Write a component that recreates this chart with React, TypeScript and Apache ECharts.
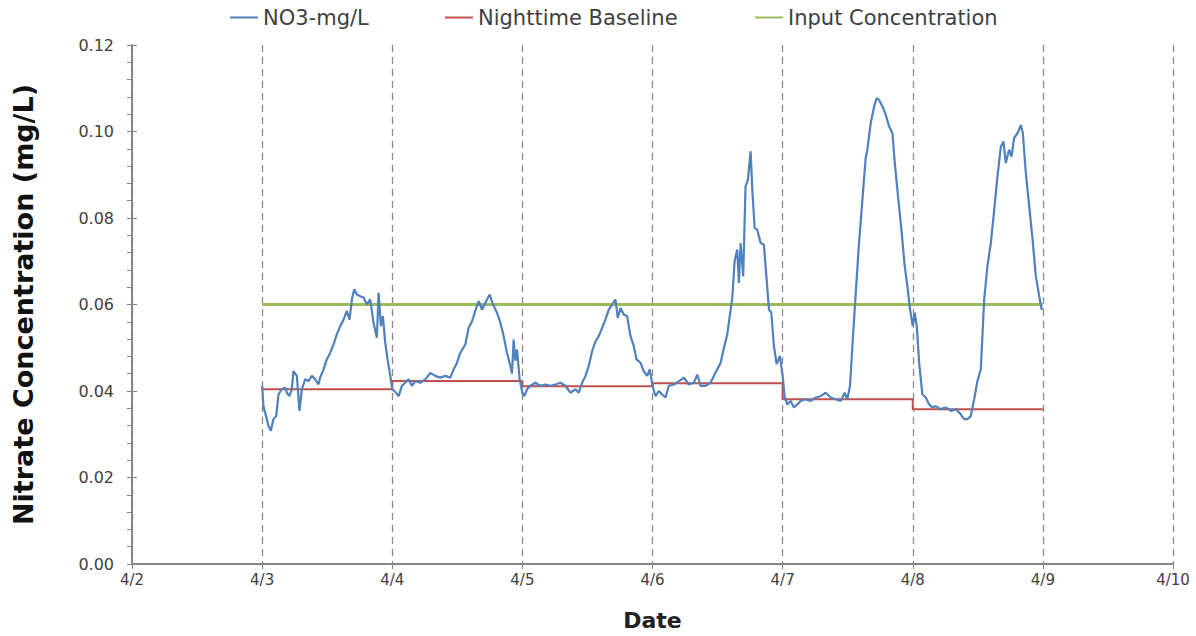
import React, { useEffect, useRef } from "react";
import * as echarts from "echarts";

// Day ticks along the x axis (value = day of April)
const dayLabels = ["4/2", "4/3", "4/4", "4/5", "4/6", "4/7", "4/8", "4/9", "4/10"];

// Measured nitrate, x in fractional April days
const no3Days = [
  3.0, 3.01, 3.023, 3.036, 3.049, 3.067, 3.087, 3.108, 3.126, 3.151, 3.177, 3.19, 3.21, 3.228, 3.241, 3.267,
  3.287, 3.305, 3.331, 3.356, 3.382, 3.408, 3.433, 3.446, 3.472, 3.497, 3.523, 3.549, 3.574, 3.6, 3.626, 3.651,
  3.672, 3.69, 3.708, 3.728, 3.754, 3.779, 3.805, 3.831, 3.856, 3.882, 3.895, 3.913, 3.928, 3.946, 3.964, 3.985,
  4.0, 4.023, 4.049, 4.074, 4.1, 4.126, 4.151, 4.177, 4.215, 4.254, 4.292, 4.331, 4.369, 4.408, 4.446, 4.472,
  4.497, 4.523, 4.562, 4.587, 4.613, 4.638, 4.664, 4.69, 4.715, 4.749, 4.774, 4.805, 4.831, 4.856, 4.882, 4.908,
  4.92, 4.933, 4.946, 4.959, 4.979,
  5.0, 5.015, 5.036, 5.062, 5.1, 5.138, 5.177, 5.215, 5.254, 5.292, 5.331, 5.369, 5.408, 5.433, 5.459, 5.485,
  5.51, 5.536, 5.562, 5.587, 5.613, 5.638, 5.664, 5.69, 5.715, 5.733, 5.754, 5.779, 5.805, 5.831, 5.856, 5.877,
  5.908, 5.933, 5.959, 5.979,
  6.0, 6.023, 6.049, 6.074, 6.1, 6.126, 6.164, 6.203, 6.241, 6.279, 6.318, 6.344, 6.369, 6.408, 6.446, 6.472,
  6.497, 6.523, 6.549, 6.574, 6.59, 6.613, 6.631, 6.651, 6.664, 6.677, 6.697, 6.715, 6.733, 6.754, 6.767, 6.785,
  6.805, 6.831, 6.856, 6.877, 6.895, 6.913, 6.933, 6.954, 6.979,
  7.0, 7.015, 7.036, 7.062, 7.087, 7.113, 7.138, 7.177, 7.215, 7.254, 7.292, 7.331, 7.369, 7.408, 7.446, 7.477,
  7.497, 7.518, 7.536, 7.562, 7.587, 7.613, 7.638, 7.651, 7.677, 7.703, 7.723, 7.741, 7.767, 7.792, 7.818, 7.844,
  7.862, 7.887, 7.913, 7.938, 7.959, 7.979,
  8.0, 8.015, 8.031, 8.049, 8.074, 8.1, 8.126, 8.151, 8.177, 8.215, 8.254, 8.292, 8.331, 8.369, 8.395, 8.421,
  8.446, 8.472, 8.497, 8.523, 8.549, 8.574, 8.6, 8.626, 8.651, 8.677, 8.697, 8.715, 8.741, 8.759, 8.779, 8.805,
  8.831, 8.846, 8.869, 8.895, 8.921, 8.946, 8.972, 8.99, 9.0,
];

const no3Values = [
  0.0412, 0.0365, 0.035, 0.0335, 0.0319, 0.0308, 0.0335, 0.0342, 0.0392, 0.0404, 0.0408, 0.0396, 0.0388, 0.0404, 0.0446, 0.0435,
  0.0354, 0.0404, 0.0427, 0.0423, 0.0435, 0.0427, 0.0415, 0.0431, 0.045, 0.0473, 0.0488, 0.0508, 0.0531, 0.055, 0.0565, 0.0585,
  0.0565, 0.0612, 0.0635, 0.0623, 0.0619, 0.0616, 0.06, 0.0612, 0.0558, 0.0523, 0.0627, 0.055, 0.0573, 0.0512, 0.0473, 0.0435,
  0.0404, 0.0398, 0.0388, 0.0412, 0.0419, 0.0427, 0.0412, 0.0423, 0.0419, 0.0427, 0.0442, 0.0435, 0.0431, 0.0435, 0.0431, 0.045,
  0.0465, 0.0488, 0.0508, 0.0546, 0.0561, 0.0585, 0.0608, 0.0588, 0.0604, 0.0623, 0.06, 0.0581, 0.0558, 0.0527, 0.0488, 0.0458,
  0.044, 0.0519, 0.047, 0.0496, 0.0427,
  0.0396, 0.0388, 0.0404, 0.0412, 0.0419, 0.0412, 0.0415, 0.0412, 0.0415, 0.0419, 0.0412, 0.0396, 0.0404, 0.0396, 0.0419, 0.0435,
  0.0458, 0.0492, 0.0515, 0.0527, 0.0546, 0.0565, 0.0588, 0.06, 0.0612, 0.0569, 0.0592, 0.0577, 0.0573, 0.0527, 0.0504, 0.0473,
  0.0465, 0.0446, 0.0435, 0.045,
  0.0412, 0.0388, 0.04, 0.0392, 0.0385, 0.0412, 0.0415, 0.0423, 0.0431, 0.0415, 0.0419, 0.0438, 0.0412, 0.0412, 0.0419, 0.0435,
  0.045, 0.0465, 0.05, 0.053, 0.0565, 0.0615, 0.07, 0.0727, 0.065, 0.0742, 0.0665, 0.0873, 0.0888, 0.0954, 0.0865, 0.0777,
  0.0773, 0.0742, 0.0738, 0.0658, 0.0588, 0.0581, 0.0504, 0.0462, 0.0481,
  0.0435, 0.0388, 0.0369, 0.0377, 0.0362, 0.0369, 0.0377, 0.0381, 0.0377, 0.0385, 0.0388, 0.0396, 0.0385, 0.0381, 0.0377, 0.0396,
  0.0381, 0.0412, 0.0504, 0.0627, 0.0742, 0.0842, 0.0938, 0.0958, 0.1019, 0.1058, 0.1077, 0.1073, 0.1058, 0.1039, 0.1012, 0.0996,
  0.0927, 0.085, 0.0773, 0.0689, 0.0642, 0.0589,
  0.055, 0.0581, 0.055, 0.0465, 0.0392, 0.0385, 0.0369, 0.0362, 0.0365, 0.0358, 0.0362, 0.0354, 0.0358, 0.0346, 0.0335, 0.0335,
  0.0342, 0.0381, 0.0423, 0.045, 0.0612, 0.0689, 0.0742, 0.0819, 0.0896, 0.0965, 0.0977, 0.0927, 0.0958, 0.0942, 0.0985, 0.0996,
  0.1015, 0.0996, 0.0904, 0.0827, 0.075, 0.0665, 0.0619, 0.0589, 0.0592,
];

// Nighttime baseline, one level per day (held until the next day)
const baselineDays = [3, 4, 5, 6, 7, 8, 9];
const baselineValues = [0.0404, 0.0423, 0.0411, 0.0418, 0.0381, 0.0358, 0.0358];

// Constant input concentration
const inputDays = [3, 9];
const inputValues = [0.06, 0.06];

const FONT = "'DejaVu Sans', Verdana, sans-serif";
const AXIS_GRAY = "#868686";

export default function App() {
  const ref = useRef<HTMLDivElement>(null);

  useEffect(() => {
    document.body.style.margin = "0";
    if (!ref.current) return;
    const chart = echarts.init(ref.current, undefined, { renderer: "svg" });

    const pairs = (xs: number[], ys: number[]) => xs.map((x, i) => [x, ys[i]]);

    const legendBase = {
      top: 7,
      padding: 0,
      icon: "rect",
      itemWidth: 28,
      itemHeight: 2,
      textStyle: { fontFamily: FONT, fontSize: 21, color: "#404040" },
      selectedMode: false as const,
    };

    chart.setOption({
      animation: false,
      backgroundColor: "#ffffff",
      legend: [
        { ...legendBase, left: 230, data: ["NO3-mg/L"] },
        { ...legendBase, left: 445, data: ["Nighttime Baseline"] },
        { ...legendBase, left: 755, data: ["Input Concentration"] },
      ],
      grid: { left: 132, right: 23, top: 45, bottom: 71, containLabel: false },
      xAxis: {
        type: "value",
        min: 2,
        max: 10,
        interval: 1,
        name: "Date",
        nameLocation: "middle",
        nameGap: 45,
        nameTextStyle: { fontFamily: FONT, fontSize: 22, fontWeight: "bold", color: "#222" },
        axisLine: { show: true, onZero: false, lineStyle: { color: AXIS_GRAY, width: 2 } },
        axisTick: { show: true, length: 5, lineStyle: { color: AXIS_GRAY, width: 1 } },
        axisLabel: {
          fontFamily: FONT,
          fontSize: 15,
          color: "#404040",
          margin: 8,
          formatter: (v: number) => dayLabels[Math.round(v - 2)] ?? "",
        },
        splitLine: {
          show: true,
          lineStyle: { color: "#8a8a8a", width: 1.3, type: [7, 5] },
        },
      },
      yAxis: [
        {
          type: "value",
          min: 0,
          max: 0.12,
          interval: 0.02,
          name: "Nitrate Concentration (mg/L)",
          nameLocation: "middle",
          nameGap: 95,
          nameTextStyle: { fontFamily: FONT, fontSize: 27, fontWeight: "bold", color: "#111" },
          axisLine: { show: true, lineStyle: { color: AXIS_GRAY, width: 2 } },
          axisTick: { show: true, length: 5, lineStyle: { color: AXIS_GRAY, width: 1 } },
          minorTick: { show: true, splitNumber: 5, length: 5, lineStyle: { color: AXIS_GRAY, width: 1 } },
          axisLabel: {
            fontFamily: FONT,
            fontSize: 16,
            color: "#404040",
            margin: 18,
            formatter: (v: number) => v.toFixed(2),
          },
          splitLine: { show: false },
        },
        {
          // inner half of the major ticks, so they cross the axis
          type: "value",
          min: 0,
          max: 0.12,
          interval: 0.02,
          position: "left",
          axisLine: { show: false },
          axisTick: { show: true, inside: true, length: 5, lineStyle: { color: AXIS_GRAY, width: 1 } },
          axisLabel: { show: false },
          splitLine: { show: false },
        },
      ],
      series: [
        {
          name: "NO3-mg/L",
          type: "line",
          data: pairs(no3Days, no3Values),
          showSymbol: false,
          symbol: "none",
          lineStyle: { color: "#4f81bd", width: 2.2 },
          itemStyle: { color: "#4f81bd" },
          z: 3,
        },
        {
          name: "Nighttime Baseline",
          type: "line",
          step: "end",
          data: pairs(baselineDays, baselineValues),
          showSymbol: false,
          symbol: "none",
          lineStyle: { color: "#c0504d", width: 2 },
          itemStyle: { color: "#c0504d" },
          z: 2,
        },
        {
          name: "Input Concentration",
          type: "line",
          data: pairs(inputDays, inputValues),
          showSymbol: false,
          symbol: "none",
          lineStyle: { color: "#9bbb59", width: 3 },
          itemStyle: { color: "#9bbb59" },
          z: 1,
        },
      ],
    });

    return () => chart.dispose();
  }, []);

  return <div ref={ref} style={{ width: 1196, height: 636 }} />;
}
